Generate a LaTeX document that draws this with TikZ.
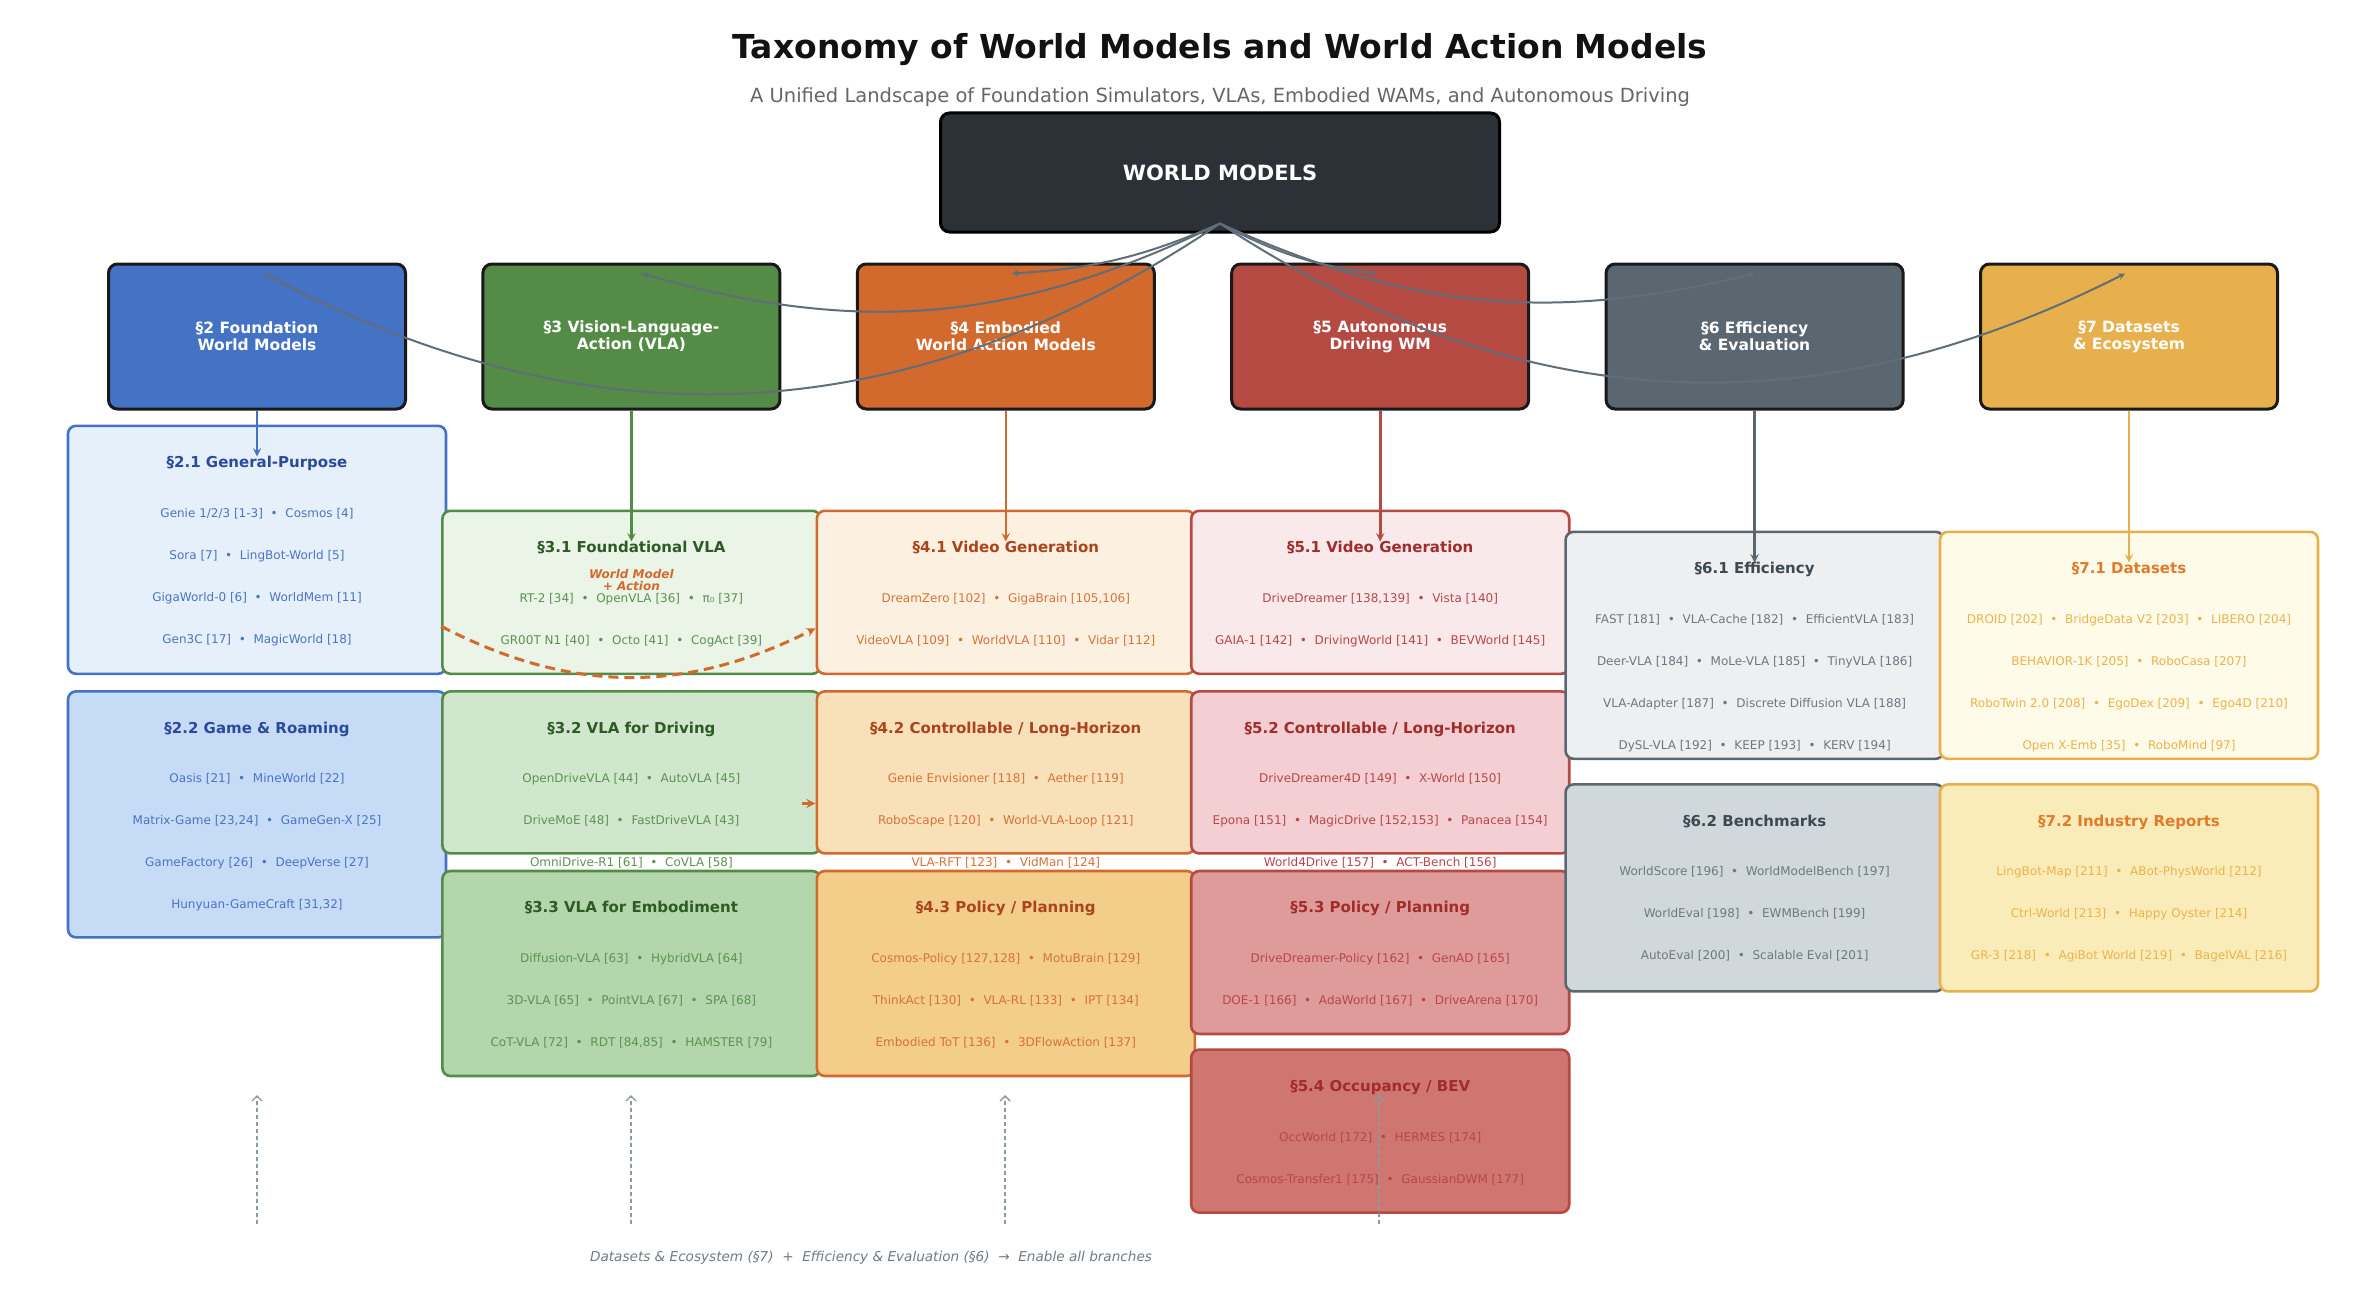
\documentclass[tikz,border=0pt]{standalone}
\usepackage{fontspec}
\setmainfont{DejaVu Sans}
\usepackage{tikz}
\usetikzlibrary{arrows, arrows.meta, positioning}
\usepackage{xcolor}
\definecolor{rootfill}{HTML}{2B3137}
\definecolor{hubgray}{HTML}{5F6E78}
\definecolor{footgray}{HTML}{6E7A85}
\definecolor{supgray}{HTML}{8A99A6}
\definecolor{cfwm}{HTML}{4472C4}\definecolor{cfwma}{HTML}{E6F0FA}\definecolor{cfwmb}{HTML}{C6DCF6}\definecolor{cfwmt}{HTML}{2B4A9B}\definecolor{cfwmi}{HTML}{4B73C6}
\definecolor{cvla}{HTML}{548B46}\definecolor{cvlaa}{HTML}{EAF4E7}\definecolor{cvlab}{HTML}{D1E7CD}\definecolor{cvlac}{HTML}{B3D6AC}\definecolor{cvlat}{HTML}{2E5A25}\definecolor{cvlai}{HTML}{5E9255}
\definecolor{cwam}{HTML}{D2692D}\definecolor{cwama}{HTML}{FCF1E1}\definecolor{cwamb}{HTML}{F8E1B8}\definecolor{cwamc}{HTML}{F3CD8A}\definecolor{cwamt}{HTML}{A9441D}\definecolor{cwami}{HTML}{D6733A}
\definecolor{cad}{HTML}{B54A43}\definecolor{cada}{HTML}{FAE9EB}\definecolor{cadb}{HTML}{F3CFD3}\definecolor{cadc}{HTML}{DE9B9A}\definecolor{cadd}{HTML}{CF7670}\definecolor{cadt}{HTML}{A02D2B}\definecolor{cadi}{HTML}{B8474A}
\definecolor{ceff}{HTML}{5B6770}\definecolor{ceffa}{HTML}{EEEFF1}\definecolor{ceffb}{HTML}{D1D8DC}\definecolor{cefft}{HTML}{3D4952}\definecolor{ceffi}{HTML}{6D7882}
\definecolor{cdat}{HTML}{E8B04D}\definecolor{cdata}{HTML}{FEFBE9}\definecolor{cdatb}{HTML}{F9ECB9}\definecolor{cdatt}{HTML}{E07B2C}\definecolor{cdati}{HTML}{EDB24C}
\newcommand{\bul}{\hspace{0.64em}•\hspace{0.64em}}
\tikzstyle{catbox} = [rectangle, rounded corners=9pt, minimum width=297pt, minimum height=145pt, align=center, draw=black!90, line width=3pt, text=white, font=\fontsize{15.5}{17}\selectfont\bfseries]
\tikzstyle{secbox} = [rectangle, rounded corners=8pt, minimum width=378pt, line width=2.6pt]
\tikzstyle{sectitle} = [inner sep=0pt, text height=11pt, text depth=3.5pt, font=\fontsize{15}{17}\selectfont\bfseries]
\tikzstyle{seclist} = [inner sep=0pt, align=center, font=\fontsize{12}{42}\selectfont]
\tikzstyle{arrow} = [line width=2.6pt,->,>=stealth]
\tikzstyle{curve} = [line width=2pt,->,>=stealth, draw=hubgray]
\tikzstyle{wam} = [line width=3pt, draw=cwam, dash pattern=on 10pt off 6pt, ->,>=stealth]
\tikzstyle{support} = [line width=1.4pt, draw=supgray, dash pattern=on 4pt off 3pt, ->,>={Straight Barb[length=5pt,width=10pt]}]

\begin{document}
\begin{tikzpicture}[x=1pt, y=-1pt]
        \useasboundingbox (0,0) rectangle (2366,1316);
        \node (title) [font=\fontsize{33}{38}\selectfont\bfseries, text=black!93] at (1220,50) {Taxonomy of World Models and World Action Models};
        \node (sub) [font=\fontsize{19.5}{23}\selectfont, text=black!60] at (1220,97) {A Unified Landscape of Foundation Simulators, VLAs, Embodied WAMs, and Autonomous Driving};

        % top level
        \node (sec2) [catbox, fill=cfwm] at (257,336.5) {§2 Foundation\\World Models};
        \node (sec3) [catbox, fill=cvla, right=74.4pt of sec2] {§3 Vision-Language-\\Action (VLA)};
        \node (sec4) [catbox, fill=cwam, right=74.4pt of sec3] {§4 Embodied\\World Action Models};
        \node (sec5) [catbox, fill=cad, right=74.4pt of sec4] {§5 Autonomous\\Driving WM};
        \node (sec6) [catbox, fill=ceff, right=74.4pt of sec5] {§6 Efficiency\\\& Evaluation};
        \node (sec7) [catbox, fill=cdat, right=74.4pt of sec6] {§7 Datasets\\\& Ecosystem};
        \node (root) [rectangle, rounded corners=9pt, minimum width=559pt, minimum height=119pt, fill=rootfill, draw=black, line width=3pt, text=white, font=\fontsize{21}{25}\selectfont\bfseries] at (1220,172.5) {WORLD MODELS};

        % section 2
        \node (s21) [secbox, draw=cfwm, fill=cfwma, minimum height=248pt, below=14pt of sec2] {};
        \node (s21t) [sectitle, text=cfwmt, below=32pt of s21.north] {§2.1 General-Purpose};
        \node (s21l) [seclist, text=cfwmi, below=44pt of s21t.center] {Genie 1/2/3 [1-3]\bul Cosmos [4]\\Sora [7]\bul LingBot-World [5]\\GigaWorld-0 [6]\bul WorldMem [11]\\Gen3C [17]\bul MagicWorld [18]};
        \node (s22) [secbox, draw=cfwm, fill=cfwmb, minimum height=246pt, below=15pt of s21] {};
        \node (s22t) [sectitle, text=cfwmt, below=32pt of s22.north] {§2.2 Game \& Roaming};
        \node (s22l) [seclist, text=cfwmi, below=44pt of s22t.center] {Oasis [21]\bul MineWorld [22]\\Matrix-Game [23,24]\bul GameGen-X [25]\\GameFactory [26]\bul DeepVerse [27]\\Hunyuan-GameCraft [31,32]};
        \draw [arrow, draw=cfwm] (sec2) -- (s21t);

        % section 3
        \node (s31) [secbox, draw=cvla, fill=cvlaa, minimum height=163pt, below=99pt of sec3] {};
        \node (s31t) [sectitle, text=cvlat, below=32pt of s31.north] {§3.1 Foundational VLA};
        \node (s31l) [seclist, text=cvlai, below=44pt of s31t.center] {RT-2 [34]\bul OpenVLA [36]\bul π₀ [37]\\GR00T N1 [40]\bul Octo [41]\bul CogAct [39]};
        \node (s32) [secbox, draw=cvla, fill=cvlab, minimum height=162pt, below=15pt of s31] {};
        \node (s32t) [sectitle, text=cvlat, below=32pt of s32.north] {§3.2 VLA for Driving};
        \node (s32l) [seclist, text=cvlai, below=44pt of s32t.center] {OpenDriveVLA [44]\bul AutoVLA [45]\\DriveMoE [48]\bul FastDriveVLA [43]\\OmniDrive-R1 [61]\bul CoVLA [58]};
        \node (s33) [secbox, draw=cvla, fill=cvlac, minimum height=205pt, below=15pt of s32] {};
        \node (s33t) [sectitle, text=cvlat, below=32pt of s33.north] {§3.3 VLA for Embodiment};
        \node (s33l) [seclist, text=cvlai, below=44pt of s33t.center] {Diffusion-VLA [63]\bul HybridVLA [64]\\3D-VLA [65]\bul PointVLA [67]\bul SPA [68]\\CoT-VLA [72]\bul RDT [84,85]\bul HAMSTER [79]};
        \draw [arrow, draw=cvla] (sec3) -- (s31t);

        % section 4
        \node (s41) [secbox, draw=cwam, fill=cwama, minimum height=163pt, below=99pt of sec4] {};
        \node (s41t) [sectitle, text=cwamt, below=32pt of s41.north] {§4.1 Video Generation};
        \node (s41l) [seclist, text=cwami, below=44pt of s41t.center] {DreamZero [102]\bul GigaBrain [105,106]\\VideoVLA [109]\bul WorldVLA [110]\bul Vidar [112]};
        \node (s42) [secbox, draw=cwam, fill=cwamb, minimum height=162pt, below=15pt of s41] {};
        \node (s42t) [sectitle, text=cwamt, below=32pt of s42.north] {§4.2 Controllable / Long-Horizon};
        \node (s42l) [seclist, text=cwami, below=44pt of s42t.center] {Genie Envisioner [118]\bul Aether [119]\\RoboScape [120]\bul World-VLA-Loop [121]\\VLA-RFT [123]\bul VidMan [124]};
        \node (s43) [secbox, draw=cwam, fill=cwamc, minimum height=205pt, below=15pt of s42] {};
        \node (s43t) [sectitle, text=cwamt, below=32pt of s43.north] {§4.3 Policy / Planning};
        \node (s43l) [seclist, text=cwami, below=44pt of s43t.center] {Cosmos-Policy [127,128]\bul MotuBrain [129]\\ThinkAct [130]\bul VLA-RL [133]\bul IPT [134]\\Embodied ToT [136]\bul 3DFlowAction [137]};
        \draw [arrow, draw=cwam] (sec4) -- (s41t);

        % world model + action link
        \draw [wam] ([yshift=-34pt]s31.west) to[bend right=27] ([yshift=-36pt]s41.west);
        \node (wml) [font=\fontsize{12}{12}\selectfont\bfseries\itshape, text=cwam, align=center, inner sep=0pt] at ([yshift=-31pt]s31t.center) {World Model\\+ Action};
        \draw [wam, solid] ([xshift=-14pt,yshift=-31pt]s42.west) -- ([yshift=-31pt]s42.west);

        % section 5
        \node (s51) [secbox, draw=cad, fill=cada, minimum height=163pt, below=99pt of sec5] {};
        \node (s51t) [sectitle, text=cadt, below=32pt of s51.north] {§5.1 Video Generation};
        \node (s51l) [seclist, text=cadi, below=44pt of s51t.center] {DriveDreamer [138,139]\bul Vista [140]\\GAIA-1 [142]\bul DrivingWorld [141]\bul BEVWorld [145]};
        \node (s52) [secbox, draw=cad, fill=cadb, minimum height=162pt, below=15pt of s51] {};
        \node (s52t) [sectitle, text=cadt, below=32pt of s52.north] {§5.2 Controllable / Long-Horizon};
        \node (s52l) [seclist, text=cadi, below=44pt of s52t.center] {DriveDreamer4D [149]\bul X-World [150]\\Epona [151]\bul MagicDrive [152,153]\bul Panacea [154]\\World4Drive [157]\bul ACT-Bench [156]};
        \node (s53) [secbox, draw=cad, fill=cadc, minimum height=163pt, below=15pt of s52] {};
        \node (s53t) [sectitle, text=cadt, below=32pt of s53.north] {§5.3 Policy / Planning};
        \node (s53l) [seclist, text=cadi, below=44pt of s53t.center] {DriveDreamer-Policy [162]\bul GenAD [165]\\DOE-1 [166]\bul AdaWorld [167]\bul DriveArena [170]};
        \node (s54) [secbox, draw=cad, fill=cadd, minimum height=163pt, below=13pt of s53] {};
        \node (s54t) [sectitle, text=cadt, below=32pt of s54.north] {§5.4 Occupancy / BEV};
        \node (s54l) [seclist, text=cadi, below=44pt of s54t.center] {OccWorld [172]\bul HERMES [174]\\Cosmos-Transfer1 [175]\bul GaussianDWM [177]};
        \draw [arrow, draw=cad] (sec5) -- (s51t);

        % section 6
        \node (s61) [secbox, draw=ceff, fill=ceffa, minimum height=227pt, below=120pt of sec6] {};
        \node (s61t) [sectitle, text=cefft, below=32pt of s61.north] {§6.1 Efficiency};
        \node (s61l) [seclist, text=ceffi, below=44pt of s61t.center] {FAST [181]\bul VLA-Cache [182]\bul EfficientVLA [183]\\Deer-VLA [184]\bul MoLe-VLA [185]\bul TinyVLA [186]\\VLA-Adapter [187]\bul Discrete Diffusion VLA [188]\\DySL-VLA [192]\bul KEEP [193]\bul KERV [194]};
        \node (s62) [secbox, draw=ceff, fill=ceffb, minimum height=207pt, below=23pt of s61] {};
        \node (s62t) [sectitle, text=cefft, below=32pt of s62.north] {§6.2 Benchmarks};
        \node (s62l) [seclist, text=ceffi, below=44pt of s62t.center] {WorldScore [196]\bul WorldModelBench [197]\\WorldEval [198]\bul EWMBench [199]\\AutoEval [200]\bul Scalable Eval [201]};
        \draw [arrow, draw=ceff] (sec6) -- (s61t);

        % section 7
        \node (s71) [secbox, draw=cdat, fill=cdata, minimum height=227pt, below=120pt of sec7] {};
        \node (s71t) [sectitle, text=cdatt, below=32pt of s71.north] {§7.1 Datasets};
        \node (s71l) [seclist, text=cdati, below=44pt of s71t.center] {DROID [202]\bul BridgeData V2 [203]\bul LIBERO [204]\\BEHAVIOR-1K [205]\bul RoboCasa [207]\\RoboTwin 2.0 [208]\bul EgoDex [209]\bul Ego4D [210]\\Open X-Emb [35]\bul RoboMind [97]};
        \node (s72) [secbox, draw=cdat, fill=cdatb, minimum height=207pt, below=23pt of s71] {};
        \node (s72t) [sectitle, text=cdatt, below=32pt of s72.north] {§7.2 Industry Reports};
        \node (s72l) [seclist, text=cdati, below=44pt of s72t.center] {LingBot-Map [211]\bul ABot-PhysWorld [212]\\Ctrl-World [213]\bul Happy Oyster [214]\\GR-3 [218]\bul AgiBot World [219]\bul BagelVAL [216]};
        \draw [arrow, draw=cdat] (sec7) -- (s71t);

        % supporting branches
        \node (foot) [font=\fontsize{13.6}{16}\selectfont\itshape, text=footgray] at (871,1258) {Datasets \& Ecosystem (§7)\ \ +\ \ Efficiency \& Evaluation (§6)\ \ →\ \ Enable all branches};
        \coordinate (b2) at (257,1224); \coordinate (t2) at (257,1095);
        \coordinate (b3) at (631,1224); \coordinate (t3) at (631,1095);
        \coordinate (b4) at (1005,1224); \coordinate (t4) at (1005,1095);
        \coordinate (b5) at (1379,1224); \coordinate (t5) at (1379,1095);
        \draw [support] (b2) -- (t2);
        \draw [support] (b3) -- (t3);
        \draw [support] (b4) -- (t4);
        \draw [support] (b5) -- (t5);

        % root to categories
        \coordinate (hub) at ([yshift=10pt]root.south);
        \draw [curve] (hub) to[bend left=31] ([xshift=7pt,yshift=-11pt]sec2.north);
        \draw [curve] (hub) to[bend left=21] ([xshift=10pt,yshift=-11pt]sec3.north);
        \draw [curve] (hub) to[bend left=10] ([xshift=6pt,yshift=-11pt]sec4.north);
        \draw [curve] (hub) to[bend right=10] ([xshift=-4pt,yshift=-11pt]sec5.north);
        \draw [curve] (hub) to[bend right=19] ([yshift=-11pt]sec6.north);
        \draw [curve] (hub) to[bend right=30] ([xshift=-4pt,yshift=-11pt]sec7.north);
    \end{tikzpicture}
\end{document}
